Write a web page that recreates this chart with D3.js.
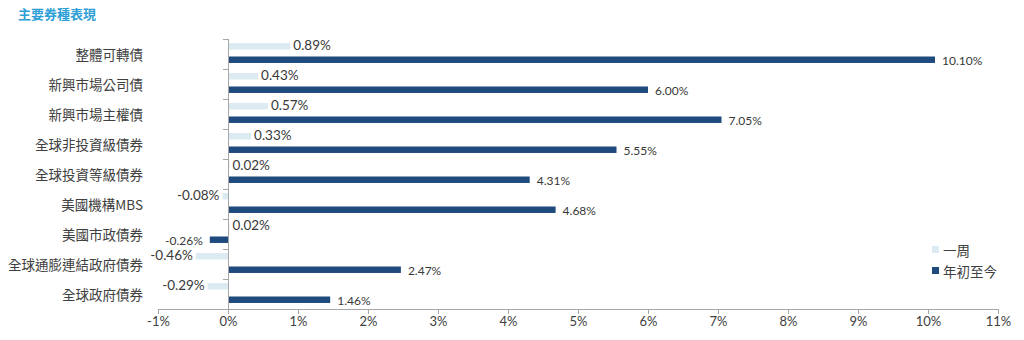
<!DOCTYPE html>
<html>
<head>
<meta charset="utf-8">
<script src="https://cdn.jsdelivr.net/npm/d3@7"></script>
<style>
  html, body { margin: 0; padding: 0; background: #fff; }
  svg { display: block; }
  .cat { font-family: "Noto Sans CJK TC", "Noto Sans", sans-serif; font-size: 13.5px; fill: #404040; }
  .num { font-family: "Lato", "Noto Sans", sans-serif; fill: #383838; }
</style>
</head>
<body>
<svg id="chart" width="1024" height="340"></svg>
<script>
// Bond sector returns (%)
const categories = ["整體可轉債", "新興市場公司債", "新興市場主權債", "全球非投資級債券", "全球投資等級債券", "美國機構MBS", "美國市政債券", "全球通膨連結政府債券", "全球政府債券"];
const weekly = [0.89, 0.43, 0.57, 0.33, 0.02, -0.08, 0.02, -0.46, -0.29];
const ytd = [10.10, 6.00, 7.05, 5.55, 4.31, 4.68, -0.26, 2.47, 1.46];
const seriesNames = ["一周", "年初至今"];
const xTicks = [-1, 0, 1, 2, 3, 4, 5, 6, 7, 8, 9, 10, 11];
const title = "主要券種表現";

const colors = { "一周": "#dcebf2", "年初至今": "#1f4a7e" };
const axisColor = "#a6a6a6";

const svg = d3.select("#chart");
const plot = { left: 158, right: 998, top: 39, bottom: 309 };

const x = d3.scaleLinear().domain([-1, 11]).range([plot.left, plot.right]);
const y = d3.scaleBand().domain(categories).range([plot.top, plot.bottom]).padding(0);
const sub = d3.scaleBand().domain(seriesNames)
  .range([0, y.bandwidth() - 2]).paddingInner(0.52).paddingOuter(0.3);

const rows = categories.map((c, i) => ({ cat: c, values: [
  { name: seriesNames[0], v: weekly[i] },
  { name: seriesNames[1], v: ytd[i] }
]}));

// Title
svg.append("text")
  .attr("x", 18).attr("y", 13)
  .attr("dominant-baseline", "central")
  .style("font-family", "\"Noto Sans CJK TC\", sans-serif")
  .style("font-size", "13px").style("font-weight", "bold")
  .style("fill", "#2e9fd6")
  .text(title);

// X axis
const xAxis = svg.append("g")
  .attr("transform", `translate(0,${plot.bottom})`)
  .call(d3.axisBottom(x).tickValues(xTicks).tickSize(5).tickFormat(d => d + "%"));
xAxis.select(".domain").attr("stroke", axisColor).attr("d", `M${plot.left},0.5V0.5H${plot.right}V0.5`);
xAxis.selectAll(".tick line").attr("stroke", axisColor);
xAxis.selectAll(".tick text")
  .attr("class", "num").attr("y", 13).attr("dy", "0.32em")
  .style("font-size", "13px").style("fill", "#404040");

// Bars
const groups = svg.append("g").selectAll("g.row").data(rows).join("g")
  .attr("class", "row")
  .attr("transform", d => `translate(0,${y(d.cat)})`);

groups.selectAll("rect").data(d => d.values).join("rect")
  .attr("x", d => x(Math.min(0, d.v)))
  .attr("width", d => Math.abs(x(d.v) - x(0)))
  .attr("y", d => sub(d.name))
  .attr("height", sub.bandwidth())
  .attr("fill", d => colors[d.name]);

// Value labels
groups.selectAll("text.val").data(d => d.values).join("text")
  .attr("class", "val num")
  .attr("x", d => {
    const gap = d.name === seriesNames[0] ? 3 : 7;
    return d.v >= 0 ? x(d.v) + gap : x(d.v) - gap;
  })
  .attr("y", d => sub(d.name) + sub.bandwidth() / 2 + (d.name === seriesNames[0] ? -1 : 1))
  .attr("dominant-baseline", "central")
  .attr("text-anchor", d => d.v >= 0 ? "start" : "end")
  .style("font-size", d => d.name === seriesNames[0] ? "13.5px" : "12px")
  .text(d => d.v.toFixed(2) + "%");

// Y axis (category axis at zero)
const yAxis = svg.append("g")
  .attr("transform", `translate(${x(0)},0)`);
yAxis.append("line")
  .attr("x1", 0.5).attr("x2", 0.5)
  .attr("y1", plot.top).attr("y2", plot.bottom)
  .attr("stroke", axisColor);
const bounds = categories.map(c => y(c)).concat([plot.bottom]);
yAxis.selectAll("line.tk").data(bounds).join("line")
  .attr("class", "tk")
  .attr("x1", -5).attr("x2", 0.5)
  .attr("y1", d => Math.round(d) + 0.5).attr("y2", d => Math.round(d) + 0.5)
  .attr("stroke", axisColor);

// Category labels
svg.append("g").selectAll("text").data(categories).join("text")
  .attr("class", "cat")
  .attr("x", 143)
  .attr("y", d => y(d) + y.bandwidth() / 2)
  .attr("dominant-baseline", "central")
  .attr("text-anchor", "end")
  .text(d => d);

// Legend
const legend = svg.append("g").attr("transform", "translate(932,246)");
seriesNames.forEach((name, i) => {
  const g = legend.append("g").attr("transform", `translate(0,${i * 21})`);
  g.append("rect").attr("width", 7).attr("height", 7).attr("fill", colors[name]);
  g.append("text")
    .attr("x", 11).attr("y", 4)
    .attr("dominant-baseline", "central")
    .attr("class", "cat")
    .text(name);
});
</script>
</body>
</html>
